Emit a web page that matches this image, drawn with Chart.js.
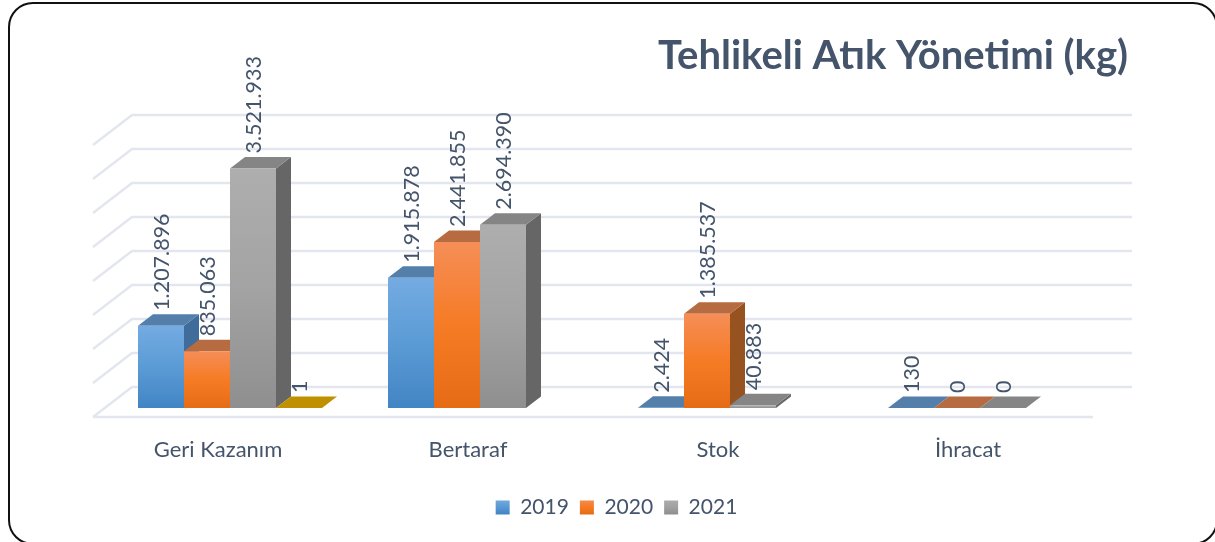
<!DOCTYPE html>
<html><head><meta charset="utf-8">
<style>
html,body{margin:0;padding:0;background:#fff;overflow:hidden;width:1215px;height:542px}
#frame{position:absolute;left:8px;top:2px;width:1210px;height:543px;border:2px solid #111;border-radius:25px;box-sizing:border-box;pointer-events:none}
canvas{position:absolute;left:0;top:0}
</style>
<script src="https://cdn.jsdelivr.net/npm/chart.js@4/dist/chart.umd.min.js"></script>
</head><body>
<canvas id="c" width="1215" height="542"></canvas>
<div id="frame"></div>
<script>
const categories = ['Geri Kazanım','Bertaraf','Stok','İhracat'];
const seriesNames = ['2019','2020','2021','Diğer'];
const values2019 = [1207896,1915878,2424,130];
const values2020 = [835063,2441855,1385537,0];
const values2021 = [3521933,2694390,40883,0];
const valuesOther = [1,null,null,null];
const textColor = '#44546a';
const fontFamily = 'Lato, Carlito, sans-serif';

const faces = [
  {stops:['#74abe2','#5b9bd5','#4285c4'], top:'#557fab', side:'#3f6c9a'},
  {stops:['#f58e57','#f67b25','#e56c15'], top:'#b76b41', side:'#96521f'},
  {stops:['#aeaeae','#a3a3a3','#8f8f8f'], top:'#858585', side:'#666666'},
  {stops:['#ffc000','#ffc000','#ffc000'], top:'#bf9000', side:'#96720a'}
];
const turkish = new Intl.NumberFormat('tr-TR',{maximumFractionDigits:0});

function grad(ctx,y0,y1,stops){
  const g = ctx.createLinearGradient(0,y0,0,y1);
  g.addColorStop(0,stops[0]); g.addColorStop(.5,stops[1]); g.addColorStop(1,stops[2]);
  return g;
}
function poly(ctx,pts,fill){
  ctx.beginPath(); pts.forEach((p,i)=> i?ctx.lineTo(p[0],p[1]):ctx.moveTo(p[0],p[1]));
  ctx.closePath(); ctx.fillStyle=fill; ctx.fill();
}

const walls = {
  id:'walls',
  beforeDatasetsDraw(chart){
    const {ctx,scales:{x,y},chartArea:a} = chart;
    ctx.save();
    ctx.strokeStyle='#e3e6ef'; ctx.lineWidth=2.4;
    y.ticks.forEach(t=>{
      const p=y.getPixelForValue(t.value);
      ctx.beginPath();
      ctx.moveTo(a.left-12,p+9); ctx.lineTo(a.left+27,p-21); ctx.lineTo(a.right+27,p-21);
      ctx.stroke();
    });
    const p0=y.getPixelForValue(0);
    ctx.beginPath(); ctx.moveTo(a.left-12,p0+9); ctx.lineTo(a.right-12,p0+9); ctx.stroke();
    ctx.restore();
  }
};
const bars3d = {
  id:'bars3d',
  beforeDatasetsDraw(chart){
    const ctx=chart.ctx, dx=15, dy=11.5;
    ctx.save();
    chart.data.datasets.forEach((ds,i)=>{
      const f=faces[i];
      chart.getDatasetMeta(i).data.forEach((el,j)=>{
        if(ds.data[j]===null) return;
        const l=el.x-el.width/2, r=el.x+el.width/2, t=el.y, b=el.base;
        poly(ctx,[[r,t],[r+dx,t-dy],[r+dx,b-dy],[r,b]],f.side);
        poly(ctx,[[l,t],[r,t],[r+dx,t-dy],[l+dx,t-dy]],f.top);
      });
    });
    ctx.restore();
  },
  afterDatasetsDraw(chart){
    const ctx=chart.ctx;
    ctx.save();
    ctx.font='21.5px '+fontFamily; ctx.fillStyle=textColor;
    ctx.textAlign='left'; ctx.textBaseline='middle';
    chart.data.datasets.forEach((ds,i)=>{
      chart.getDatasetMeta(i).data.forEach((el,j)=>{
        if(ds.data[j]===null) return;
        ctx.save();
        ctx.translate(el.x+1,el.y-15);
        ctx.rotate(-Math.PI/2);
        ctx.fillText(turkish.format(ds.data[j]),0,0);
        ctx.restore();
      });
    });
    ctx.restore();
  }
};

const build=(vals,i)=>({
  label:seriesNames[i], data:vals,
  borderWidth:0,
  categoryPercentage:0.736, barPercentage:1,
  backgroundColor:(c)=>{
    const s=c.chart.scales.y;
    if(!s||c.raw===undefined||c.raw===null) return faces[i].stops[1];
    return grad(c.chart.ctx,s.getPixelForValue(c.raw),s.getPixelForValue(0),faces[i].stops);
  }
});

new Chart(document.getElementById('c'),{
  type:'bar',
  data:{labels:categories,datasets:[values2019,values2020,values2021,valuesOther].map(build)},
  plugins:[walls,bars3d],
  options:{
    responsive:false, animation:false,
    layout:{padding:{left:105,right:87,top:32,bottom:14}},
    plugins:{
      tooltip:{enabled:false},
      title:{display:true,text:'Tehlikeli Atık Yönetimi (kg)',align:'end',color:textColor,
        font:{family:fontFamily,size:40,weight:'bold'},padding:{top:0,bottom:56}},
      legend:{position:'bottom',
        labels:{font:{family:fontFamily,size:21},color:textColor,boxWidth:14,boxHeight:14,padding:11,
          filter:(it)=>it.datasetIndex<3,
          generateLabels(chart){
            return chart.data.datasets.map((d,i)=>({
              text:d.label,datasetIndex:i,lineWidth:0,strokeStyle:'transparent',fontColor:textColor,
              fillStyle:grad(chart.ctx,499,514,faces[i].stops)
            }));
          }}}
    },
    scales:{
      x:{grid:{display:false},border:{display:false},
        afterFit(s){s.height=78;},
        ticks:{color:textColor,font:{family:fontFamily,size:22},labelOffset:-12,padding:21,maxRotation:0}},
      y:{min:0,max:4000000,grid:{display:false},border:{display:false},
        afterFit(s){s.width=0;},
        ticks:{display:false,stepSize:500000}},
      y2:{position:'right',min:0,max:1,grid:{display:false},border:{display:false},
        ticks:{display:false},afterFit(s){s.width=23;}}
    }
  }
});
</script>
</body></html>
